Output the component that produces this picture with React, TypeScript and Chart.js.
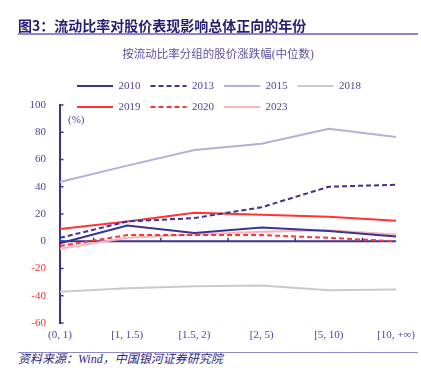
import React, { useEffect, useRef } from "react";
import { Chart, registerables } from "chart.js";

Chart.register(...registerables);

const categories = ["(0, 1)", "[1, 1.5)", "[1.5, 2)", "[2, 5)", "[5, 10)", "[10, +∞)"];
const seriesNames = ["2010", "2013", "2015", "2018", "2019", "2020", "2023"];
const y2010 = [-1.5, 11.5, 6, 10, 7.5, 3.5];
const y2013 = [2.5, 14.5, 17, 25, 40, 41.5];
const y2015 = [43.5, 55.5, 67, 71.5, 82.5, 76.5];
const y2018 = [-37, -34.5, -33, -32.5, -36, -35.5];
const y2019 = [9, 14.5, 21, 19.5, 18, 15];
const y2020 = [-3.5, 4.5, 4.5, 4.5, 2.5, 0];
const y2023 = [-5.5, 2.5, 5, 7, 8, 5];
const yMin = -60;
const yMax = 100;
const yStep = 20;

const NAVY = "#3b3393";
const LABEL = "#4d449f";
const RED = "#ff2e2e";
const SERIF = "'Liberation Serif', 'Times New Roman', serif";

export default function App() {
  const ref = useRef<HTMLCanvasElement>(null);

  useEffect(() => {
    const canvas = ref.current;
    if (!canvas) return;

    const custom = {
      id: "custom",
      beforeInit(chart: any) {
        const legend = chart.legend;
        if (legend) {
          const orig = legend.fit;
          legend.fit = function () {
            orig.call(this);
            this.height = 34.5;
          };
        }
      },
      afterLayout(chart: any) {
        const l = chart.legend;
        if (l) {
          l.left = 67;
          l.bottom = l.top + 60;
        }
      },
      beforeDatasetsDraw(chart: any) {
        const { ctx, chartArea, scales } = chart;
        const xs = scales.x;
        const ys = scales.y;
        const y0 = ys.getPixelForValue(0);
        ctx.save();
        ctx.strokeStyle = NAVY;
        ctx.lineWidth = 2;
        ctx.beginPath();
        ctx.moveTo(chartArea.left, y0);
        ctx.lineTo(chartArea.right, y0);
        ctx.stroke();
        const w = xs.getPixelForValue(1) - xs.getPixelForValue(0);
        ctx.lineWidth = 1.5;
        for (let i = 0; i < categories.length; i++) {
          const px = xs.getPixelForValue(i) + w / 2;
          ctx.beginPath();
          ctx.moveTo(px, y0);
          ctx.lineTo(px, y0 - 3.5);
          ctx.stroke();
        }
        ys.ticks.forEach((_t: any, i: number) => {
          const py = ys.getPixelForTick(i);
          ctx.beginPath();
          ctx.moveTo(chartArea.left, py);
          ctx.lineTo(chartArea.left + 3.5, py);
          ctx.stroke();
        });
        ctx.restore();
      },
    };

    const mk = (i: number, data: number[], color: string, dash: number[] = []) => ({
      label: seriesNames[i],
      data,
      borderColor: color,
      backgroundColor: color,
      borderWidth: 2,
      borderDash: dash,
      pointRadius: 0,
      pointHoverRadius: 0,
      tension: 0,
      fill: false,
    });

    const baseGen = (Chart as any).defaults.plugins.legend.labels.generateLabels;

    const chart = new Chart(canvas, {
      type: "line",
      data: {
        labels: categories,
        datasets: [
          mk(0, y2010, NAVY),
          mk(1, y2013, NAVY, [5, 3]),
          mk(2, y2015, "#b4afd9"),
          mk(3, y2018, "#c9c9c9"),
          mk(4, y2019, "#ff3333"),
          mk(5, y2020, "#ff3333", [5, 3]),
          mk(6, y2023, "#f8b5b9"),
        ],
      },
      options: {
        responsive: false,
        animation: false,
        layout: { padding: { top: 70.5, left: 0, right: 21, bottom: 0 } },
        plugins: {
          title: { display: false },
          tooltip: { enabled: false },
          legend: {
            display: true,
            position: "top",
            align: "start",
            labels: {
              color: LABEL,
              font: { family: SERIF, size: 11 },
              usePointStyle: true,
              pointStyle: "line",
              pointStyleWidth: 36,
              boxHeight: 11,
              padding: 10,
              generateLabels(chart: any) {
                const items = baseGen(chart);
                return items.map((it: any) => {
                  const ds = chart.data.datasets[it.datasetIndex];
                  return {
                    ...it,
                    lineDash: ds.borderDash || [],
                    lineWidth: ds.borderWidth,
                    strokeStyle: ds.borderColor,
                    fillStyle: ds.borderColor,
                    pointStyle: "line",
                  };
                });
              },
            },
          },
        },
        scales: {
          x: {
            afterFit(s: any) {
              s.height = 27;
            },
            ticks: {
              color: LABEL,
              font: { family: SERIF, size: 11 },
              padding: 6,
              maxRotation: 0,
              autoSkip: false,
            },
            grid: { display: false, drawTicks: false },
            border: { display: false },
          },
          y: {
            min: yMin,
            max: yMax,
            afterFit(s: any) {
              s.width = 60;
            },
            ticks: {
              stepSize: yStep,
              color: (c: any) => (c.tick && c.tick.value < 0 ? RED : LABEL),
              font: { family: SERIF, size: 11 },
              padding: 14,
            },
            grid: { display: false, drawTicks: false },
            border: { display: true, color: NAVY, width: 2 },
          },
        },
      },
      plugins: [custom],
    } as any);

    return () => chart.destroy();
  }, []);

  return (
    <div style={{ position: "absolute", left: 0, top: 0, width: 421, height: 370, background: "#fff" }}>
      <canvas ref={ref} width={421} height={350} style={{ position: "absolute", left: 0, top: 0, width: 421, height: 350 }} />
      <div
        style={{
          position: "absolute",
          left: 18,
          top: 15,
          fontFamily: "'Noto Sans CJK SC', sans-serif",
          fontWeight: 700,
          fontSize: 14,
          lineHeight: "20px",
          color: "#241e72",
          whiteSpace: "nowrap",
        }}
      >
        图3：流动比率对股价表现影响总体正向的年份
      </div>
      <div style={{ position: "absolute", left: 18, top: 33, width: 400, height: 1.5, background: "#8c85c9" }} />
      <div
        style={{
          position: "absolute",
          left: 68,
          width: 300,
          top: 46,
          textAlign: "center",
          fontFamily: "'Liberation Serif', 'Noto Sans CJK SC', serif",
          fontSize: 11.5,
          lineHeight: "16px",
          color: "#5a51a2",
          whiteSpace: "nowrap",
        }}
      >
        按流动比率分组的股价涨跌幅(中位数)
      </div>
      <div
        style={{
          position: "absolute",
          left: 68,
          top: 112,
          fontFamily: SERIF,
          fontSize: 11,
          lineHeight: "14px",
          color: LABEL,
        }}
      >
        (%)
      </div>
      <div style={{ position: "absolute", left: 18, top: 351.5, width: 400, height: 1, background: "#8f88cc" }} />
      <div
        style={{
          position: "absolute",
          left: 18,
          top: 352,
          fontFamily: "'Liberation Serif', 'Noto Sans CJK SC', serif",
          fontStyle: "italic",
          fontSize: 12,
          lineHeight: "15px",
          color: "#2d2781",
          whiteSpace: "nowrap",
        }}
      >
        资料来源：Wind，中国银河证券研究院
      </div>
    </div>
  );
}
